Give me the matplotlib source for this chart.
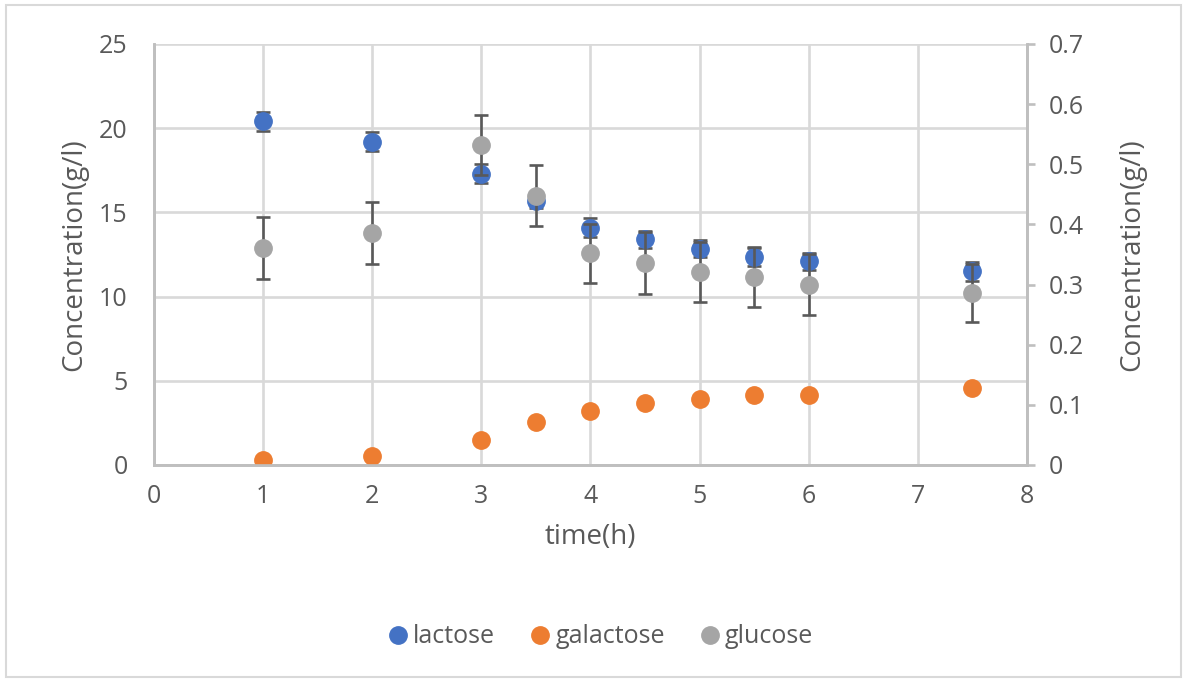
import matplotlib
matplotlib.use('Agg')
import matplotlib.pyplot as plt
import matplotlib.patches as mpatches
from matplotlib.lines import Line2D

plt.rcParams['font.family'] = ['Open Sans', 'DejaVu Sans']

# data
time = [1, 2, 3, 3.5, 4, 4.5, 5, 5.5, 6, 7.5]
lactose = [20.4, 19.2, 17.3, 15.7, 14.1, 13.4, 12.85, 12.35, 12.1, 11.5]
lactose_err = [0.55, 0.55, 0.55, 0.45, 0.55, 0.5, 0.5, 0.55, 0.5, 0.55]
galactose = [0.3, 0.55, 1.48, 2.57, 3.2, 3.68, 3.92, 4.18, 4.18, 4.57]
glucose = [0.361, 0.386, 0.532, 0.448, 0.352, 0.336, 0.321, 0.312, 0.300, 0.286]
glucose_err = [0.051, 0.051, 0.05, 0.051, 0.049, 0.051, 0.05, 0.05, 0.05, 0.048]

left_ticks = [0, 5, 10, 15, 20, 25]
right_ticks = [0, 0.1, 0.2, 0.3, 0.4, 0.5, 0.6, 0.7]
right_labels = ['0', '0.1', '0.2', '0.3', '0.4', '0.5', '0.6', '0.7']
x_ticks = [0, 1, 2, 3, 4, 5, 6, 7, 8]

blue = '#4472C4'
orange = '#ED7D31'
grey = '#A5A5A5'
errcol = '#595959'
gridcol = '#D9D9D9'
axcol = '#BFBFBF'
txtcol = '#595959'

fig = plt.figure(figsize=(11.87, 6.82), dpi=100)
ax = fig.add_axes([0.1297, 0.3182, 0.7355, 0.6173])
ax2 = ax.twinx()

ax.set_xlim(0, 8)
ax.set_ylim(0, 25)
ax2.set_ylim(0, 0.7)
ax.set_xticks(x_ticks)
ax.set_yticks(left_ticks)
ax2.set_yticks(right_ticks)
ax2.set_yticklabels(right_labels)

ax.grid(True, color=gridcol, linewidth=1.9)
ax.set_axisbelow(True)

for a in (ax, ax2):
    a.spines['top'].set_visible(False)
    for s in ('left', 'right', 'bottom'):
        a.spines[s].set_color(axcol)
        a.spines[s].set_linewidth(1.9)
ax.tick_params(axis='both', length=0, labelsize=18, labelcolor=txtcol, colors=txtcol)
ax.tick_params(axis='y', pad=19)
ax.tick_params(axis='x', pad=14)
ax2.tick_params(axis='y', length=6, width=1.9, color=axcol, labelsize=18, labelcolor=txtcol, pad=10)

# lactose + galactose on the left axis
ax.errorbar(time, lactose, yerr=lactose_err, fmt='o', color=blue, markersize=12.5,
            ecolor=errcol, elinewidth=1.9, capsize=5, capthick=1.9, zorder=3)
ax.plot(time, galactose, 'o', color=orange, markersize=12.5, zorder=3)
# glucose on the right axis
ax2.errorbar(time, glucose, yerr=glucose_err, fmt='o', color=grey, markersize=12.5,
             ecolor=errcol, elinewidth=1.9, capsize=5, capthick=1.9, zorder=3)

ax.set_xlabel('time(h)', fontsize=20, color=txtcol, labelpad=10)
ax.set_ylabel('Concentration(g/l)', fontsize=20, color=txtcol, labelpad=8)
ax2.set_ylabel('Concentration(g/l)', fontsize=20, color=txtcol, labelpad=24)

handles = [Line2D([], [], marker='o', linestyle='none', color=c, markersize=12.5) for c in (blue, orange, grey)]
fig.legend(handles, ['lactose', 'galactose', 'glucose'], loc='center', bbox_to_anchor=(0.504, 0.066),
           ncol=3, frameon=False, fontsize=18, handletextpad=0.0, columnspacing=1.2,
           labelcolor=txtcol, handlelength=1.2)

# chart border
fig.patches.append(mpatches.Rectangle((0.005, 0.007), 0.99, 0.986, transform=fig.transFigure,
                                      fill=False, edgecolor=gridcol, linewidth=1.5))

plt.savefig('out.png', dpi=100)
